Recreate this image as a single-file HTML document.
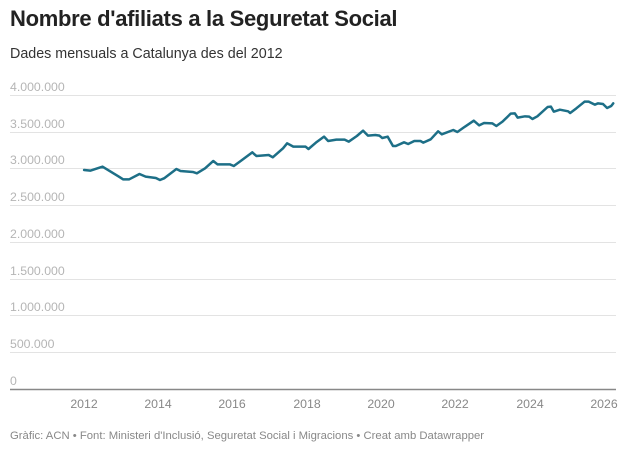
<!DOCTYPE html>
<html><head><meta charset="utf-8"><style>
body{margin:0;width:640px;height:455px;background:#fff;font-family:"Liberation Sans",sans-serif;overflow:hidden;position:relative}
.t{position:absolute;left:10px;top:6px;font-size:22px;font-weight:bold;color:#222;letter-spacing:-0.3px}
.s{position:absolute;left:10px;top:46px;font-size:14.3px;color:#333}
.f{position:absolute;left:10px;top:430px;font-size:11.3px;color:#888}
svg{position:absolute;left:0;top:0}
</style></head><body>
<div class="t">Nombre d'afiliats a la Seguretat Social</div>
<div class="s">Dades mensuals a Catalunya des del 2012</div>
<svg width="640" height="455">
<g stroke="#e3e3e3" stroke-width="1">
<line x1="10" x2="616" y1="95.5" y2="95.5"/><line x1="10" x2="616" y1="132.5" y2="132.5"/>
<line x1="10" x2="616" y1="168.5" y2="168.5"/><line x1="10" x2="616" y1="205.5" y2="205.5"/>
<line x1="10" x2="616" y1="242.5" y2="242.5"/><line x1="10" x2="616" y1="279.5" y2="279.5"/>
<line x1="10" x2="616" y1="315.5" y2="315.5"/><line x1="10" x2="616" y1="352.5" y2="352.5"/>
</g>
<line x1="10" x2="616" y1="389.5" y2="389.5" stroke="#888" stroke-width="1.5"/>
<g font-size="12.3" fill="#b5b5b5" font-family="Liberation Sans,sans-serif">
<text x="10" y="91">4.000.000</text><text x="10" y="128">3.500.000</text>
<text x="10" y="164">3.000.000</text><text x="10" y="201">2.500.000</text>
<text x="10" y="238">2.000.000</text><text x="10" y="275">1.500.000</text>
<text x="10" y="311">1.000.000</text><text x="10" y="348">500.000</text>
<text x="10" y="385">0</text>
</g>
<g font-size="12.3" fill="#888" text-anchor="middle" font-family="Liberation Sans,sans-serif">
<text x="84" y="408">2012</text><text x="158" y="408">2014</text><text x="232" y="408">2016</text>
<text x="307" y="408">2018</text><text x="381" y="408">2020</text><text x="455" y="408">2022</text>
<text x="530" y="408">2024</text><text x="604" y="408">2026</text>
</g>
<g transform="translate(0,70) scale(0.4102,0.3333)">
<polyline fill="none" stroke="#1d6f87" stroke-width="2.5" vector-effect="non-scaling-stroke" stroke-linejoin="round" stroke-linecap="round" points="205,300 220,302 245,292 250,290 270,305 290,320 300,328 315,328 340,312 355,320 380,324 390,330 400,325 430,297 440,303 470,306 480,310 500,295 520,273 530,283 560,283 570,288 590,270 615,247 625,258 655,255 665,262 690,235 700,220 715,230 745,230 752,237 770,218 790,200 800,213 820,209 840,209 850,215 870,198 885,182 897,197 915,195 925,197 932,204 945,200 958,228 965,228 985,217 995,222 1010,213 1025,213 1032,218 1050,208 1068,184 1077,193 1105,180 1115,186 1130,173 1155,152 1168,166 1180,159 1200,160 1210,168 1225,155 1245,131 1255,130 1262,143 1280,139 1290,140 1298,147 1310,139 1335,111 1343,110 1350,125 1365,119 1385,124 1390,129 1405,115 1425,95 1435,95 1450,104 1458,100 1470,102 1480,114 1490,108 1495,100"/>
</g>
</svg>
<div class="f">Gràfic: ACN • Font: Ministeri d'Inclusió, Seguretat Social i Migracions • Creat amb Datawrapper</div>
</body></html>
